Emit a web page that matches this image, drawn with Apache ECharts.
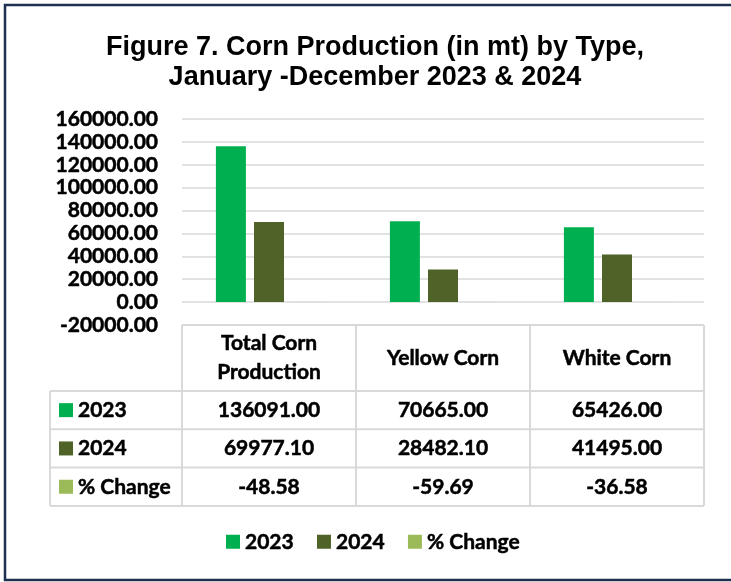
<!DOCTYPE html>
<html>
<head>
<meta charset="utf-8">
<script src="https://cdn.jsdelivr.net/npm/echarts@6/dist/echarts.min.js"></script>
<style>
  html, body { margin: 0; padding: 0; background: #ffffff; }
  #chart { width: 731px; height: 582px; }
</style>
</head>
<body>
<div id="chart"></div>
<script>
// Corn production by type, Jan-Dec 2023 vs 2024 (metric tons)
const categories = ['Total Corn\nProduction', 'Yellow Corn', 'White Corn'];
const seriesNames = ['2023', '2024', '% Change'];
const values2023 = [136091.00, 70665.00, 65426.00];
const values2024 = [69977.10, 28482.10, 41495.00];
const pctChange = [-48.58, -59.69, -36.58];
const yMin = -20000;
const yMax = 160000;
const yStep = 20000;

const colors = ['#00B050', '#4F6228', '#9BBB59'];
const rows = [values2023, values2024, pctChange];
const gridColor = '#D9D9D9';
const labelFont = 'Lato';
const labelSize = 21;
// thin outline to give the labels a heavier bold weight
const heavy = { textBorderColor: '#000000', textBorderWidth: 0.5 };

const chart = echarts.init(document.getElementById('chart'), null, { renderer: 'canvas' });

const baseOption = {
  animation: false,
  backgroundColor: '#ffffff',
  title: {
    text: 'Figure 7. Corn Production (in mt) by Type,\nJanuary -December 2023 & 2024',
    left: 370,
    top: 28,
    textAlign: 'center',
    textStyle: {
      fontFamily: 'Liberation Sans',
      fontWeight: 'bold',
      fontSize: 27,
      lineHeight: 30,
      color: '#000000'
    }
  },
  legend: {
    data: seriesNames,
    left: 221,
    top: 526,
    icon: 'rect',
    itemWidth: 14,
    itemHeight: 14,
    itemGap: 23,
    textStyle: Object.assign({
      fontFamily: labelFont,
      fontWeight: 'bold',
      fontSize: labelSize,
      color: '#000000'
    }, heavy)
  },
  grid: {
    left: 182,
    right: 27,
    top: 119,
    bottom: 257,
    containLabel: false
  },
  xAxis: {
    type: 'category',
    data: categories,
    axisLine: { show: false },
    axisTick: { show: false },
    axisLabel: { show: false },
    splitLine: { show: false }
  },
  yAxis: {
    type: 'value',
    min: yMin,
    max: yMax,
    interval: yStep,
    axisLine: { show: false },
    axisTick: { show: false },
    axisLabel: Object.assign({
      margin: 24,
      color: '#000000',
      fontFamily: labelFont,
      fontWeight: 'bold',
      fontSize: labelSize,
      formatter: v => v.toFixed(2)
    }, heavy),
    splitLine: { show: true, lineStyle: { color: gridColor, width: 1.5 } }
  },
  series: seriesNames.map((name, i) => ({
    name: name,
    type: 'bar',
    data: rows[i],
    barWidth: 30,
    barGap: '27%',
    itemStyle: { color: colors[i] }
  }))
};

chart.setOption(baseOption);

// Data table under the plot, laid out from the category axis positions
function buildTable() {
  const centers = categories.map((c, i) => chart.convertToPixel({ xAxisIndex: 0 }, i));
  const step = centers[1] - centers[0];
  const colEdges = [centers[0] - step / 2];
  centers.forEach(c => colEdges.push(c + step / 2));
  const tableTop = chart.convertToPixel({ yAxisIndex: 0 }, yMin);
  const headerH = 66;
  const rowH = 38.3;
  const labelLeft = 50;
  const rowTops = [0, 1, 2, 3].map(k => tableTop + headerH + k * rowH);
  const tableRight = colEdges[colEdges.length - 1];

  const lineStyle = { stroke: gridColor, lineWidth: 2 };
  const els = [];
  const addLine = (x1, y1, x2, y2) => els.push({
    type: 'line', shape: { x1, y1, x2, y2 }, style: lineStyle, silent: true
  });
  const textStyle = (text, x, y, align) => ({
    text, x, y,
    align: align || 'center', textAlign: align || 'center',
    verticalAlign: 'middle', textVerticalAlign: 'middle',
    fontFamily: labelFont, fontWeight: 'bold', fontSize: labelSize, lineHeight: 29,
    fill: '#000000', stroke: '#000000', lineWidth: 0.5
  });

  // horizontal rules
  addLine(colEdges[0], tableTop, tableRight, tableTop);
  rowTops.forEach(y => addLine(labelLeft, y, tableRight, y));
  // vertical rules
  addLine(labelLeft, rowTops[0], labelLeft, rowTops[3]);
  colEdges.forEach(x => addLine(x, tableTop, x, rowTops[3]));

  // header cells
  categories.forEach((c, i) => {
    els.push({ type: 'text', style: textStyle(c, centers[i], tableTop + headerH / 2), silent: true });
  });

  // body rows with legend keys
  rows.forEach((vals, r) => {
    const cy = rowTops[r] + rowH / 2;
    els.push({
      type: 'rect', shape: { x: 59, y: cy - 7, width: 14, height: 14 },
      style: { fill: colors[r] }, silent: true
    });
    els.push({ type: 'text', style: textStyle(seriesNames[r], 78, cy, 'left'), silent: true });
    vals.forEach((v, i) => {
      els.push({ type: 'text', style: textStyle(v.toFixed(2), centers[i], cy), silent: true });
    });
  });

  // outer frame
  els.push({
    type: 'rect', shape: { x: 5, y: 5, width: 740, height: 575 },
    style: { fill: 'none', stroke: '#1F2F4F', lineWidth: 2.5 }, silent: true, z: 10
  });

  chart.setOption({ graphic: { elements: els } });
}

buildTable();
</script>
</body>
</html>
